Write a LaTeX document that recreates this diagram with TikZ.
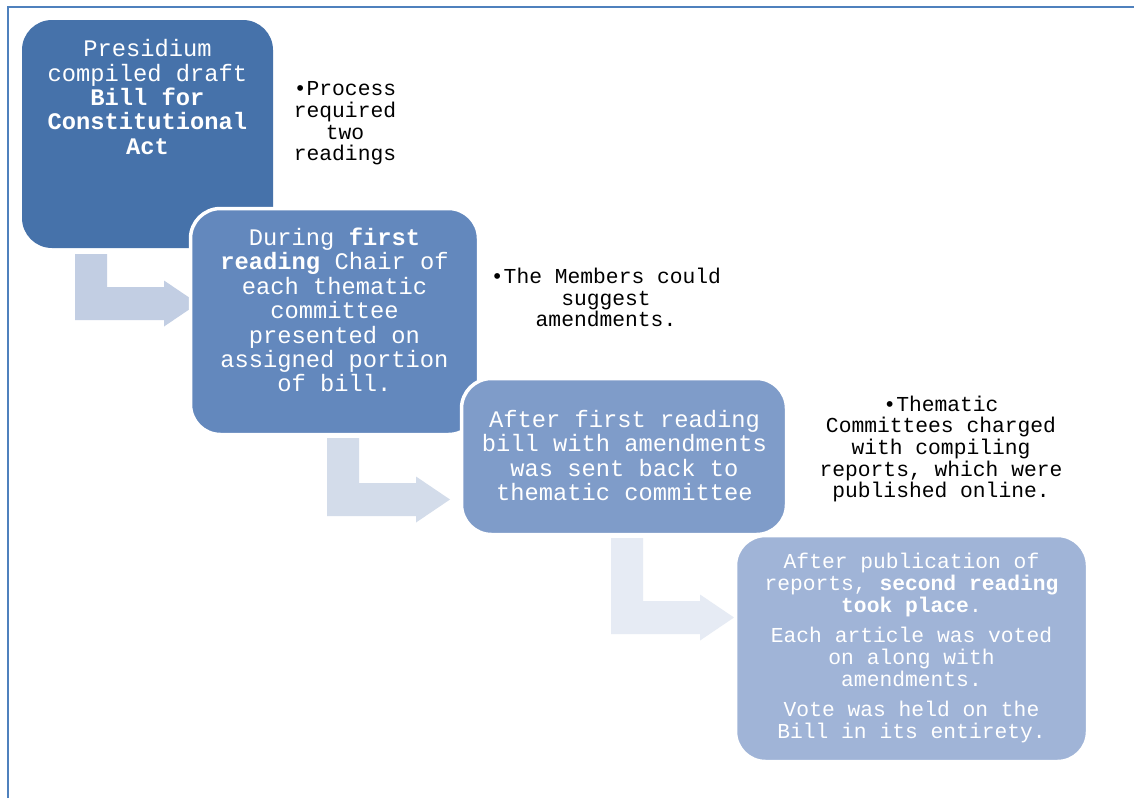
\documentclass[tikz,border=0pt]{standalone}
\usepackage{fontspec}
\setmainfont{Liberation Mono}
\begin{document}
\definecolor{frameblue}{HTML}{4F81BD}
\definecolor{stepA}{HTML}{4672AA}
\definecolor{stepB}{HTML}{6388BD}
\definecolor{stepC}{HTML}{7F9CC9}
\definecolor{stepD}{HTML}{A0B4D7}
\definecolor{arrA}{HTML}{C2CEE3}
\definecolor{arrB}{HTML}{D3DCEA}
\definecolor{arrC}{HTML}{E6EBF4}
% bent connector: colour, left x, top y, bottom y of the vertical bar
\newcommand\bentarrow[4]{%
  \fill[#1] (#2,#3) -- (#2+32,#3) -- (#2+32,#4-33) -- (#2+89,#4-33)
    -- (#2+89,#4-39.5) -- (#2+123,#4-16.5) -- (#2+89,#4+6.5)
    -- (#2+89,#4) -- (#2,#4) -- cycle;}
\begin{tikzpicture}[x=1pt,y=-1pt,
  stepbox/.style={rectangle, rounded corners=30pt, inner sep=0pt, outer sep=0pt},
  edged/.style={draw=white, line width=3.5pt},
  bigtext/.style={text=white, align=center, inner sep=0pt,
    font=\fontsize{23.75}{24.4}\selectfont},
  smalltext/.style={text=white, align=center, inner sep=0pt,
    font=\fontsize{21.3}{22}\selectfont},
  notetext/.style={text=black, align=center, inner sep=0pt,
    font=\fontsize{21.3}{21.7}\selectfont}]
\useasboundingbox (0,0) rectangle (1134,798);
\fill[white] (0,0) rectangle (1134,798);
% page frame
\draw[frameblue, line width=2.3pt] (8,798) -- (8,7) -- (1134,7);

% connectors between the steps
\bentarrow{arrA}{75}{254}{320}
\bentarrow{arrB}{327}{438}{516}
\bentarrow{arrC}{611}{538}{634}

% steps
\node[stepbox, fill=stepA, minimum width=251pt, minimum height=228pt] (s1) at (147.5,134) {};
\node[stepbox, edged, fill=stepB, minimum width=288pt, minimum height=226pt] (s2) at (334.5,321.5) {};
\node[stepbox, edged, fill=stepC, minimum width=325pt, minimum height=156pt] (s3) at (624,456.5) {};
\node[stepbox, edged, fill=stepD, minimum width=352pt, minimum height=226pt] (s4) at (911.5,648.5) {};

\node[bigtext] (t1) at (147.5,97) {Presidium\\compiled draft\\\textbf{Bill for}\\\textbf{Constitutional}\\\textbf{Act}};
\node[bigtext] (t2) at (334.5,310) {During \textbf{first}\\\textbf{reading} Chair of\\each thematic\\committee\\presented on\\assigned portion\\of bill.};
\node[bigtext] (t3) at (624.5,455.5) {After first reading\\bill with amendments\\was sent back to\\thematic committee};
\node[smalltext] (t4) at (911.5,648) {After publication of\\reports, \textbf{second reading}\\\textbf{took place}.\\[8pt]Each article was voted\\on along with\\amendments.\\[8pt]Vote was held on the\\Bill in its entirety.};

% side notes
\node[notetext] (n1) at (345,123.5) {•Process\\required\\two\\readings};
\node[notetext] (n2) at (606,297.5) {•The Members could\\suggest\\amendments.};
\node[notetext] (n3) at (941,449) {•Thematic\\Committees charged\\with compiling\\reports, which were\\published online.};
\end{tikzpicture}
\end{document}
